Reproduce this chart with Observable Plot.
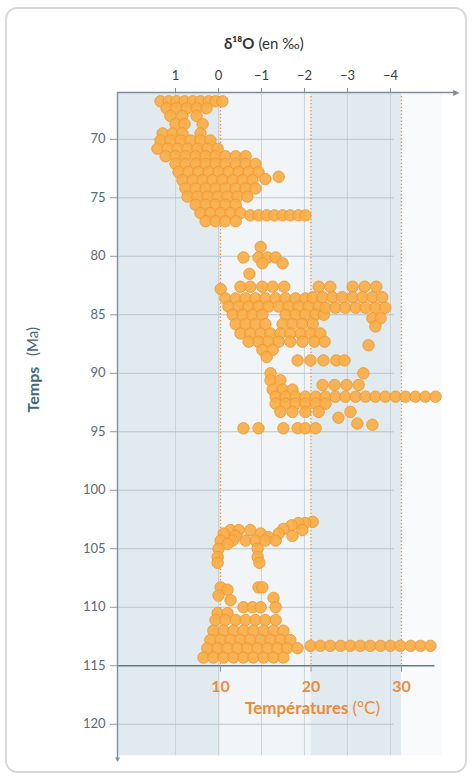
<!DOCTYPE html>
<html><head><meta charset="utf-8">
<script src="https://cdn.jsdelivr.net/npm/d3@7"></script>
<script src="https://cdn.jsdelivr.net/npm/@observablehq/plot@0.6"></script>
<style>
body{margin:0;background:#fff;}
#wrap{position:relative;width:473px;height:781px;overflow:hidden;}
#frame{position:absolute;left:5px;top:7px;width:462px;height:766px;border:2px solid #d5dadd;border-radius:12px;pointer-events:none;box-sizing:border-box;}
</style></head><body><div id="wrap"><div id="frame"></div></div>
<script>
// δ18O (‰) values per age row (Ma): [age, [δ18O, ...]]
const maastrichtianCampanian = [
  [66.75, [1.35,1.16,0.98,0.79,0.60,0.42,0.23,0.07,-0.09]],
  [67.35, [1.21,0.98,0.74,0.51,0.28]],
  [68.0, [1.12,0.84,0.51]],
  [68.7, [1.0,0.79,0.37]],
  [69.5, [1.30,1.07,0.84,0.42]],
  [70.1, [1.35,1.12,0.88,0.65,0.42,0.19]],
  [70.8, [1.42,1.19,0.95,0.72,0.49,0.26,0.02]],
  [71.45, [1.23,1.00,0.77,0.53,0.30,0.07,-0.16,-0.40,-0.63]],
  [72.1, [1.00,0.77,0.53,0.30,0.07,-0.16,-0.40,-0.63,-0.86]],
  [72.8, [0.93,0.70,0.47,0.23,0.0,-0.23,-0.47,-0.70,-0.93]],
  [73.2, [-1.40]],
  [73.4, [-1.09]],
  [73.5, [0.84,0.60,0.37,0.14,-0.09,-0.33,-0.56,-0.79]],
  [74.2, [0.77,0.53,0.30,0.07,-0.16,-0.40,-0.63,-0.86]],
  [74.9, [0.72,0.49,0.26,0.02,-0.21,-0.44,-0.67]],
  [75.6, [0.53,0.30,0.07,-0.16,-0.40]],
  [76.3, [0.42,0.19,-0.05,-0.28,-0.51]],
  [76.5, [-0.74,-0.93,-1.12,-1.30,-1.49,-1.67,-1.86,-2.02]],
  [77.0, [0.30,0.07,-0.16,-0.40]]
];
const santonianConiacian = [
  [79.2, [-0.98]],
  [80.1, [-0.58,-0.93,-1.14,-1.33]],
  [80.6, [-1.02,-1.49]],
  [81.5, [-0.72]],
  [82.6, [-0.51,-0.74,-1.02,-1.26,-1.53]],
  [82.8, [-0.05]],
  [83.6, [-0.16,-0.40,-0.63,-0.86,-1.09,-1.33,-1.56,-1.79,-2.02]],
  [84.3, [-0.23,-0.47,-0.70,-0.93,-1.16,-1.40,-1.63,-1.86,-2.09,-2.33]],
  [85.0, [-0.33,-0.56,-0.79,-1.02,-1.56,-1.79,-2.02,-2.26,-2.45]],
  [85.8, [-0.40,-0.63,-0.86,-1.09,-1.49,-1.72,-1.95,-2.19]],
  [86.6, [-0.51,-0.74,-0.98,-1.21,-1.44,-1.67,-1.91,-2.14,-2.37]],
  [87.3, [-0.70,-0.93,-1.16,-1.40,-1.67,-1.95,-2.23,-2.47]],
  [88.0, [-1.02,-1.26]],
  [88.6, [-1.12]],
  [88.9, [-1.84,-2.14,-2.44,-2.74,-2.93]]
];
const santonianWarm = [
  [82.6, [-2.33,-2.60,-3.12,-3.40,-3.67]],
  [83.5, [-2.19,-2.42,-2.65,-2.88,-3.12,-3.35,-3.58,-3.81]],
  [84.4, [-2.49,-2.72,-2.95,-3.19,-3.42,-3.65,-3.88]],
  [85.3, [-3.58,-3.77]],
  [86.0, [-3.65]],
  [87.6, [-3.49]]
];
const turonianCenomanian = [
  [90.0, [-1.21,-3.37]],
  [90.6, [-1.21,-1.44]],
  [91.0, [-2.42,-2.70,-2.98,-3.26]],
  [91.4, [-1.26,-1.49,-1.72]],
  [92.0, [-1.33,-1.56,-1.79,-2.02,-2.26,-2.49,-2.72,-2.95,-3.19,-3.42,-3.65,-3.88,-4.12,-4.35,-4.58,-4.81,-5.05]],
  [92.6, [-1.33,-1.56,-1.79,-2.02,-2.26,-2.49]],
  [93.3, [-1.44,-1.72,-2.02,-2.33,-3.07]],
  [93.8, [-2.79]],
  [94.3, [-3.23]],
  [94.4, [-3.58]],
  [94.7, [-0.58,-0.93,-1.51,-1.84,-2.02,-2.26]]
];
const albianUpper = [
  [102.7, [-2.19]],
  [102.8, [-2.02,-1.86]],
  [103.0, [-1.70]],
  [103.3, [-1.51]],
  [103.4, [-0.28,-0.47,-0.74,-1.95]],
  [103.7, [-0.12,-0.98,-1.40]],
  [103.9, [-0.40,-1.72]],
  [104.0, [-1.16]],
  [104.3, [-0.05,-0.33,-0.63,-0.86,-1.09,-1.33]],
  [104.6, [-0.21]],
  [105.0, [0.0,-0.91]],
  [105.7, [0.02,-0.91]],
  [106.2, [0.02,-0.95]]
];
const albianLower = [
  [108.3, [-0.05,-0.93,-1.02]],
  [108.5, [-0.21]],
  [109.0, [0.0]],
  [109.2, [-1.28]],
  [109.4, [-0.28]],
  [110.0, [-0.58,-0.79,-0.98,-1.33]],
  [110.5, [0.02,-0.21]],
  [111.1, [0.07,-0.16,-0.40,-0.63,-0.86,-1.09,-1.33]],
  [112.0, [0.12,-0.12,-0.35,-0.58,-0.81,-1.05,-1.28,-1.51]],
  [112.8, [0.19,-0.05,-0.28,-0.51,-0.74,-0.98,-1.21,-1.44,-1.67]],
  [113.3, [-2.14,-2.37,-2.60,-2.84,-3.07,-3.30,-3.53,-3.77,-4.0,-4.23,-4.47,-4.70,-4.93]],
  [113.5, [0.26,0.02,-0.21,-0.44,-0.67,-0.91,-1.14,-1.37,-1.60,-1.84]],
  [114.3, [0.35,0.12,-0.12,-0.35,-0.58,-0.81,-1.05,-1.28,-1.51]]
];

const d18oTicks = [1, 0, -1, -2, -3, -4];
const ageTicks = [70, 75, 80, 85, 90, 95, 100, 105, 110, 115, 120];
const tempTicks = [10, 20, 30];
const tempBands = [[null, 10, "#e1eaef"], [10, 20, "#f1f5f7"], [20, 30, "#e1eaef"], [30, 34.5, "#f8fafb"]];

const xDomain = [2.35, -5.56];
const yDomain = [66, 123.1];
const tempToD18O = t => (9.78 - t) / 4.75;

const points = [maastrichtianCampanian, santonianConiacian, santonianWarm, turonianCenomanian, albianUpper, albianLower]
  .flatMap(g => g.flatMap(([ma, ds]) => ds.map(d => ({d, ma}))));
const bands = tempBands.map(([t1, t2, fill]) => ({x1: t1 == null ? xDomain[0] : tempToD18O(t1), x2: tempToD18O(t2), fill}));
const minus = d => d < 0 ? "\u2212" + (-d) : String(d);

const axisGray = "#7b919b";
const orange = "#ef8a3a";

const chart = Plot.plot({
  width: 473, height: 781,
  marginLeft: 117, marginRight: 16, marginTop: 92, marginBottom: 21,
  style: {fontFamily: "Lato, 'Open Sans', sans-serif", background: "transparent"},
  x: {domain: xDomain},
  y: {domain: yDomain, reverse: true},
  marks: [
    Plot.rectX(bands, {x1: "x1", x2: "x2", y1: yDomain[0], y2: 122.7, fill: "fill"}),
    Plot.ruleX(d18oTicks, {y1: yDomain[0], y2: 122.7, stroke: "#c5d1d7", strokeWidth: 0.9}),
    Plot.ruleY(ageTicks.filter(a => a !== 115), {x1: xDomain[0], x2: tempToD18O(29.2), stroke: "#b3c1c8", strokeWidth: 0.9}),
    Plot.ruleX(tempTicks, {x: tempToD18O, y1: 66.4, y2: 115, stroke: "#e98a45", strokeWidth: 1.6, strokeDasharray: "0.1 3.4", strokeLinecap: "round"}),
    Plot.ruleY([115], {x1: xDomain[0], x2: tempToD18O(33.7), stroke: "#5f7d8a", strokeWidth: 1.3}),
    Plot.ruleX(tempTicks, {x: tempToD18O, y1: 115, y2: 115.55, stroke: "#8a9ca5", strokeWidth: 1}),
    Plot.dot(points, {x: "d", y: "ma", r: 5.7, fill: "#f9ad47", fillOpacity: 0.93, stroke: "#ee9833", strokeWidth: 0.9}),
    Plot.ruleY([yDomain[0]], {x1: xDomain[0], x2: xDomain[1], stroke: axisGray, strokeWidth: 1.4}),
    Plot.ruleX([xDomain[0]], {y1: yDomain[0], y2: yDomain[1], stroke: axisGray, strokeWidth: 1.4}),
    Plot.text(["\u25B6"], {x: xDomain[1], y: yDomain[0], fontSize: 8, fill: axisGray, dx: -2}),
    Plot.text(["\u25BC"], {x: xDomain[0], y: yDomain[1], fontSize: 8, fill: axisGray, dy: -1}),
    Plot.axisX(d18oTicks, {anchor: "top", tickSize: 5, tickPadding: 8, tickFormat: minus, fontSize: 13, fill: "#3b3b3b", stroke: axisGray, label: null}),
    Plot.axisY(ageTicks, {anchor: "left", tickSize: 7, tickPadding: 5, fontSize: 13, fill: "#556b78", stroke: "#8a9ca5", label: null}),
    Plot.text(tempTicks, {x: tempToD18O, y: () => 115, dy: 21, text: d => String(d), fill: orange, fontWeight: "bold", fontSize: 16}),
    Plot.text(["Températures"], {frameAnchor: "bottom-left", dx: 231, dy: -52, textAnchor: "end", lineAnchor: "middle", fill: orange, fontWeight: "bold", fontSize: 17}),
    Plot.text(["(°C)"], {frameAnchor: "bottom-left", dx: 235, dy: -52, textAnchor: "start", lineAnchor: "middle", fill: orange, fontSize: 17}),
    Plot.text(["δ¹⁸O"], {frameAnchor: "top-left", dx: 137, dy: -48, textAnchor: "end", lineAnchor: "middle", fill: "#333", fontWeight: "bold", fontSize: 15}),
    Plot.text(["(en ‰)"], {frameAnchor: "top-left", dx: 141, dy: -48, textAnchor: "start", lineAnchor: "middle", fill: "#333", fontSize: 15}),
    Plot.text(["Temps"], {frameAnchor: "left", dx: -84, dy: -37, rotate: -90, textAnchor: "middle", lineAnchor: "middle", fill: "#43657d", fontWeight: "bold", fontSize: 16}),
    Plot.text(["(Ma)"], {frameAnchor: "left", dx: -84, dy: -85, rotate: -90, textAnchor: "middle", lineAnchor: "middle", fill: "#43657d", fontSize: 15})
  ]
});
chart.style.position = "absolute";
chart.style.left = "0";
chart.style.top = "0";
document.getElementById("wrap").prepend(chart);
</script>
</body></html>
